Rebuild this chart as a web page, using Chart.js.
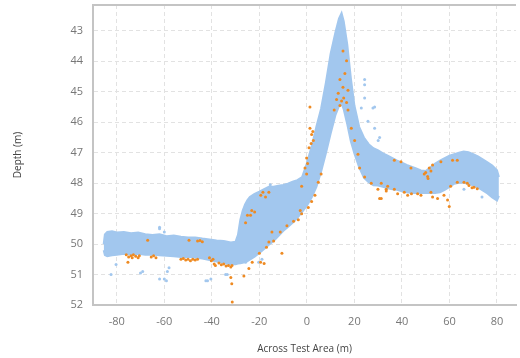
<!DOCTYPE html>
<html>
<head>
<meta charset="utf-8">
<script src="https://cdn.jsdelivr.net/npm/chart.js@4.4.0/dist/chart.umd.min.js"></script>
<style>
  html, body { margin: 0; padding: 0; background: #fff; }
  #wrap { width: 520px; height: 358px; position: relative; }
</style>
</head>
<body>
<div id="wrap"><canvas id="myChart"></canvas></div>
<script>
// blue survey band: across position, shallow edge, deep edge
const bandX = [-85.5, -85, -84, -82, -80, -77, -74, -71, -68, -65, -62, -59, -56, -53, -50, -47, -44, -41, -38, -35, -32, -30, -29, -28, -27, -26, -25, -24, -22, -20, -18, -16, -14, -12, -10, -8, -6, -4, -2, 0, 2, 4, 6, 8, 10, 12, 13.5, 14.6, 15.5, 17, 18.5, 20, 22, 24, 26, 28, 30, 32, 34, 36, 38, 40, 42, 44, 46, 48, 50, 52, 54, 56, 58, 60, 62, 64, 66, 68, 70, 72, 74, 76, 78, 80, 80.8];
const bandTop = [50.0, 49.68, 49.6, 49.58, 49.62, 49.6, 49.64, 49.62, 49.68, 49.7, 49.68, 49.74, 49.72, 49.76, 49.78, 49.78, 49.82, 49.85, 49.88, 49.9, 49.95, 49.92, 49.7, 49.2, 48.9, 48.7, 48.55, 48.45, 48.35, 48.28, 48.2, 48.12, 48.12, 48.08, 48.06, 48.02, 47.95, 47.9, 47.8, 47.35, 46.8, 46.15, 45.55, 44.7, 43.75, 43.05, 42.6, 42.42, 42.68, 43.45, 44.55, 45.45, 46.15, 46.5, 46.72, 46.85, 46.92, 47.02, 47.1, 47.18, 47.26, 47.33, 47.4, 47.46, 47.52, 47.58, 47.6, 47.48, 47.36, 47.26, 47.18, 47.1, 47.05, 47.0, 46.96, 46.98, 47.05, 47.12, 47.22, 47.32, 47.42, 47.58, 47.8];
const bandBot = [50.2, 50.36, 50.4, 50.37, 50.35, 50.32, 50.34, 50.32, 50.35, 50.34, 50.37, 50.38, 50.4, 50.42, 50.42, 50.44, 50.47, 50.52, 50.57, 50.62, 50.66, 50.66, 50.64, 50.63, 50.61, 50.59, 50.56, 50.51, 50.41, 50.29, 50.16, 50.02, 49.9, 49.74, 49.57, 49.44, 49.3, 49.14, 48.94, 48.74, 48.47, 48.12, 47.62, 47.02, 46.37, 45.77, 45.47, 45.4, 45.57, 46.07, 46.62, 47.02, 47.47, 47.82, 47.97, 48.07, 48.08, 48.12, 48.17, 48.2, 48.22, 48.27, 48.3, 48.32, 48.32, 48.32, 48.32, 48.32, 48.32, 48.3, 48.22, 48.12, 48.02, 47.99, 47.99, 48.02, 48.07, 48.14, 48.24, 48.34, 48.47, 48.57, 48.42];

// orange soundings
const orangeX = [-76, -75, -74, -73.5, -73, -72, -71, -70.5, -75.3, -67, -65.5, -64.5, -63.5, -53, -52, -51, -50, -49, -48, -47, -46, -49.6, -46, -45, -44, -41, -40.2, -39.5, -39, -38.5, -37, -36, -35, -34, -33, -32, -31.5, -32, -31.6, -31.4, -26.5, -24.4, -23, -20, -18, -19.5, -16, -14.7, -17, -14, -11.2, -10.5, -8.4, -5.6, -2.8,
  -25.8, -25, -23.7, -23.2, -22, -19.4, -18.5, -17.4, -16,
  1.3, 1.3, 2, 2.7, 0.9, 1.8, -0.1, -0.8, -0.1, -2.2, 0.3, 2.5,
  4.8, 3.4, 0.6, -2.2, -3.6, 6, 2,
  12.5, 14.6, 16.7, 13.9, 17.3, 11.5, 15.5,
  15.2, 16.7, 16, 13.9, 15.2, 17.3, 13.2,
  18.7, 20.1, 21.5, 22.2, 24.3, 27.1, 29.9, 30.6, 33.4,
  31.3, 34, 33.4, 31.3, 36.8, 38.2, 41, 42.4, 44, 46.6, 48, 52.2, 52.9, 55, 57.7, 59.2, 59.9, 60.5, 63.3, 66.1, 68.2, 70.3, 71.7, 67.5, 69.5,
  36.8, 39.6, 43.8, 49.4, 50.8, 52.2, 51.5, 52.9, 50, 51, 56.4, 61.3, 63.3];
const orangeY = [50.35, 50.42, 50.38, 50.45, 50.35, 50.4, 50.45, 50.38, 50.6, 49.87, 50.42, 50.38, 50.45, 50.5, 50.47, 50.52, 50.5, 50.55, 50.5, 50.52, 50.5, 49.87, 49.9, 49.88, 49.92, 50.45, 50.55, 50.5, 50.65, 50.7, 50.62, 50.68, 50.65, 50.72, 50.7, 50.75, 50.7, 51.1, 51.3, 51.9, 51.05, 50.8, 50.6, 50.3, 50.64, 50.6, 49.93, 49.6, 50.1, 49.9, 49.6, 50.3, 49.4, 49.25, 48.9,
  49.3, 49.05, 49.05, 48.9, 48.95, 48.4, 48.3, 48.45, 48.3,
  45.5, 46.2, 46.4, 46.6, 46.84, 46.7, 47.17, 47.5, 47.7, 48.1, 47.35, 46.3,
  47.97, 48.4, 48.8, 49.0, 49.2, 47.7, 48.6,
  45.25, 45.3, 45.35, 45.45, 45.6, 45.6, 45.2,
  43.66, 43.98, 44.4, 44.6, 44.85, 44.95, 45.05,
  46.2, 46.6, 47.05, 47.5, 47.8, 48.0, 48.2, 48.5, 48.2,
  48.0, 48.1, 48.26, 48.5, 48.2, 48.35, 48.3, 48.4, 48.35, 48.35, 48.4, 48.3, 48.45, 48.5, 48.4, 48.55, 48.77, 48.1, 47.97, 47.97, 48.08, 48.13, 48.18, 48.0, 48.15,
  47.25, 47.3, 47.5, 47.7, 47.78, 47.6, 47.5, 47.4, 47.65, 47.85, 47.3, 47.25, 47.25];

// stray blue soundings outside the band
const strayX = [-62, -62, -60, -80.3, -82.4, -69.1, -70, -62, -60, -58, -58.7, -59.1, -42.5, -40.4, -41.8, -34.2, -33.5, -20.3, -18.9, -25.8, 24.3, 24.3, 22.9, 27.8, 25.7, 28.5, 30, 24.3, 28.5, 73.7, 66.1, 30.6, -15.4];
const strayY = [49.5, 49.45, 49.6, 50.67, 51.0, 50.9, 50.95, 51.15, 51.15, 50.78, 50.9, 51.2, 51.2, 51.15, 51.2, 51.0, 51.0, 50.6, 50.5, 50.6, 44.6, 45.2, 45.53, 45.53, 45.97, 46.2, 46.6, 44.77, 45.5, 48.45, 48.2, 46.5, 48.05];

const xTicks = [-80, -60, -40, -20, 0, 20, 40, 60, 80];
const yTicks = [43, 44, 45, 46, 47, 48, 49, 50, 51, 52];

const blue = '#a2c7ee';
const orange = '#ee8a22';

const toPts = (xs, ys) => xs.map((x, i) => ({ x: x, y: ys[i] }));

// top edge of the plot frame
const framePlugin = {
    id: 'frame',
    afterDraw(chart) {
        const a = chart.chartArea;
        const c = chart.ctx;
        c.save();
        c.strokeStyle = '#c4c4c4';
        c.lineWidth = 2;
        c.beginPath();
        c.moveTo(a.left, a.top);
        c.lineTo(a.right, a.top);
        c.stroke();
        c.restore();
    }
};

const ctx = document.getElementById('myChart').getContext('2d');
const myChart = new Chart(ctx, {
    type: 'scatter',
    data: {
        datasets: [
            {
                label: 'orange',
                data: toPts(orangeX, orangeY),
                backgroundColor: orange,
                borderColor: orange,
                pointRadius: 1.5,
                borderWidth: 0,
                order: 0
            },
            {
                label: 'stray',
                data: toPts(strayX, strayY),
                backgroundColor: blue,
                borderColor: blue,
                pointRadius: 1.5,
                borderWidth: 0,
                order: 1
            },
            {
                label: 'bandTop',
                type: 'line',
                data: toPts(bandX, bandTop),
                borderColor: blue,
                borderWidth: 2,
                pointRadius: 0,
                tension: 0,
                fill: false,
                order: 2
            },
            {
                label: 'bandBot',
                type: 'line',
                data: toPts(bandX, bandBot),
                borderColor: blue,
                backgroundColor: blue,
                borderWidth: 2,
                pointRadius: 0,
                tension: 0,
                fill: '-1',
                order: 3
            }
        ]
    },
    options: {
        responsive: true,
        maintainAspectRatio: false,
        animation: false,
        layout: { padding: { top: 5, right: 0, left: 0, bottom: 0 } },
        plugins: {
            legend: { display: false },
            tooltip: { enabled: false }
        },
        scales: {
            x: {
                type: 'linear',
                min: -90,
                max: 88,
                afterBuildTicks: (s) => { s.ticks = xTicks.map(v => ({ value: v })); },
                afterFit: (s) => { s.height = 53; s.paddingLeft = 0; s.paddingRight = 0; },
                grid: { color: '#e2e2e2', drawTicks: false },
                border: { display: true, color: '#c4c4c4', width: 2, dash: [4, 3] },
                ticks: {
                    color: '#777',
                    padding: 10,
                    font: { family: 'Open Sans', size: 11 }
                },
                title: {
                    display: true,
                    text: 'Across Test Area (m)',
                    color: '#444',
                    font: { family: 'Open Sans', size: 10 },
                    padding: { top: 0, bottom: 3 }
                }
            },
            y: {
                type: 'linear',
                reverse: true,
                min: 42.15,
                max: 52,
                afterBuildTicks: (s) => { s.ticks = yTicks.map(v => ({ value: v })); },
                afterFit: (s) => { s.width = 93; s.paddingTop = 0; s.paddingBottom = 0; },
                grid: { color: '#e2e2e2', drawTicks: false },
                border: { display: true, color: '#c4c4c4', width: 2, dash: [4, 3] },
                ticks: {
                    color: '#777',
                    padding: 10,
                    font: { family: 'Open Sans', size: 11 }
                },
                title: {
                    display: true,
                    text: 'Depth (m)',
                    color: '#444',
                    font: { family: 'Open Sans', size: 10 },
                    padding: { top: 12, bottom: 0 }
                }
            }
        }
    },
    plugins: [framePlugin]
});
</script>
</body>
</html>
